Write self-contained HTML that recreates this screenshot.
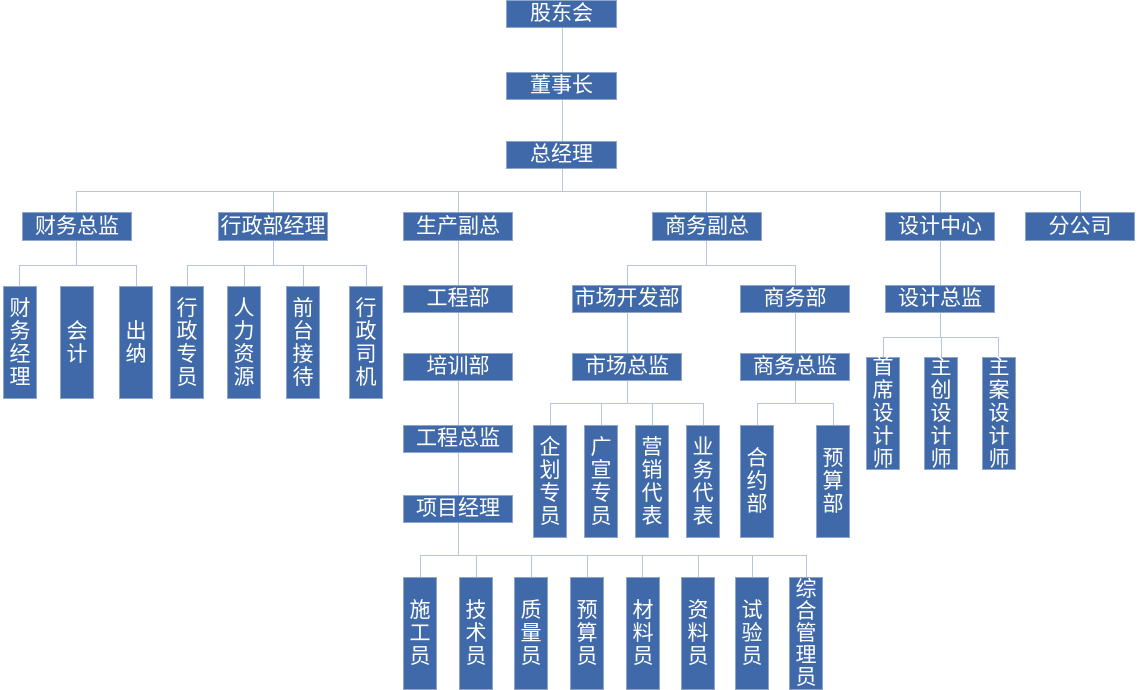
<!DOCTYPE html>
<html><head><meta charset="utf-8"><style>
body{margin:0;width:1143px;height:690px;background:#fff;position:relative;overflow:hidden;font-family:"Liberation Sans","Noto Sans CJK SC",sans-serif}
.b{position:absolute;background:#3f69a9;border:1px solid #8ea6cc;box-sizing:border-box;color:#fff;font-size:21px;display:flex;align-items:center;justify-content:center;text-align:center;line-height:24px}
.v{line-height:23px;font-size:21px}
.l{position:absolute;background:#b6c5dd}
.h{height:1px}.w{width:1px}
</style></head><body>
<!-- lines -->
<div class="l w" style="left:562px;top:27px;height:164px"></div>
<div class="l h" style="left:76px;top:191px;width:1005px"></div>
<div class="l w" style="left:76px;top:191px;height:22px"></div>
<div class="l w" style="left:273px;top:191px;height:22px"></div>
<div class="l w" style="left:458px;top:191px;height:364px"></div>
<div class="l w" style="left:706px;top:191px;height:74px"></div>
<div class="l w" style="left:940px;top:191px;height:146px"></div>
<div class="l w" style="left:1080px;top:191px;height:22px"></div>
<!-- finance -->
<div class="l w" style="left:76px;top:240px;height:25px"></div>
<div class="l h" style="left:19px;top:265px;width:118px"></div>
<div class="l w" style="left:19px;top:265px;height:21px"></div>
<div class="l w" style="left:136px;top:265px;height:21px"></div>
<!-- admin -->
<div class="l w" style="left:273px;top:240px;height:25px"></div>
<div class="l h" style="left:187px;top:265px;width:180px"></div>
<div class="l w" style="left:187px;top:265px;height:21px"></div>
<div class="l w" style="left:244px;top:265px;height:21px"></div>
<div class="l w" style="left:303px;top:265px;height:21px"></div>
<div class="l w" style="left:366px;top:265px;height:21px"></div>
<!-- commerce -->
<div class="l h" style="left:627px;top:265px;width:169px"></div>
<div class="l w" style="left:627px;top:265px;height:138px"></div>
<div class="l w" style="left:795px;top:265px;height:138px"></div>
<div class="l h" style="left:550px;top:403px;width:154px"></div>
<div class="l w" style="left:550px;top:403px;height:22px"></div>
<div class="l w" style="left:601px;top:403px;height:22px"></div>
<div class="l w" style="left:652px;top:403px;height:22px"></div>
<div class="l w" style="left:703px;top:403px;height:22px"></div>
<div class="l h" style="left:757px;top:403px;width:77px"></div>
<div class="l w" style="left:757px;top:403px;height:22px"></div>
<div class="l w" style="left:833px;top:403px;height:22px"></div>
<!-- design -->
<div class="l h" style="left:883px;top:337px;width:116px"></div>
<div class="l w" style="left:883px;top:337px;height:20px"></div>
<div class="l w" style="left:941px;top:337px;height:20px"></div>
<div class="l w" style="left:998px;top:337px;height:20px"></div>
<!-- project -->
<div class="l h" style="left:420px;top:555px;width:387px"></div>
<div class="l w" style="left:420px;top:555px;height:22px"></div>
<div class="l w" style="left:476px;top:555px;height:22px"></div>
<div class="l w" style="left:531px;top:555px;height:22px"></div>
<div class="l w" style="left:587px;top:555px;height:22px"></div>
<div class="l w" style="left:642px;top:555px;height:22px"></div>
<div class="l w" style="left:698px;top:555px;height:22px"></div>
<div class="l w" style="left:752px;top:555px;height:22px"></div>
<div class="l w" style="left:806px;top:555px;height:22px"></div>

<!-- boxes -->
<div class="b" style="left:506px;top:0;width:111px;height:28px">股东会</div>
<div class="b" style="left:506px;top:72px;width:111px;height:28px">董事长</div>
<div class="b" style="left:506px;top:141px;width:111px;height:28px">总经理</div>

<div class="b" style="left:22px;top:212px;width:110px;height:29px">财务总监</div>
<div class="b" style="left:218px;top:212px;width:110px;height:29px">行政部经理</div>
<div class="b" style="left:403px;top:212px;width:110px;height:29px">生产副总</div>
<div class="b" style="left:652px;top:212px;width:110px;height:29px">商务副总</div>
<div class="b" style="left:885px;top:212px;width:110px;height:29px">设计中心</div>
<div class="b" style="left:1025px;top:212px;width:110px;height:29px">分公司</div>

<div class="b v" style="left:3px;top:286px;width:34px;height:113px">财<br>务<br>经<br>理</div>
<div class="b v" style="left:60px;top:286px;width:34px;height:113px">会<br>计</div>
<div class="b v" style="left:119px;top:286px;width:34px;height:113px">出<br>纳</div>
<div class="b v" style="left:170px;top:286px;width:34px;height:113px">行<br>政<br>专<br>员</div>
<div class="b v" style="left:227px;top:286px;width:34px;height:113px">人<br>力<br>资<br>源</div>
<div class="b v" style="left:286px;top:286px;width:34px;height:113px">前<br>台<br>接<br>待</div>
<div class="b v" style="left:349px;top:286px;width:34px;height:113px">行<br>政<br>司<br>机</div>

<div class="b" style="left:403px;top:285px;width:110px;height:28px">工程部</div>
<div class="b" style="left:403px;top:353px;width:110px;height:28px">培训部</div>
<div class="b" style="left:403px;top:425px;width:110px;height:28px">工程总监</div>
<div class="b" style="left:403px;top:495px;width:110px;height:28px">项目经理</div>

<div class="b" style="left:572px;top:285px;width:110px;height:28px">市场开发部</div>
<div class="b" style="left:740px;top:285px;width:110px;height:28px">商务部</div>
<div class="b" style="left:572px;top:353px;width:110px;height:28px">市场总监</div>
<div class="b" style="left:740px;top:353px;width:110px;height:28px">商务总监</div>
<div class="b" style="left:885px;top:285px;width:110px;height:28px">设计总监</div>

<div class="b v" style="left:533px;top:425px;width:34px;height:113px">企<br>划<br>专<br>员</div>
<div class="b v" style="left:584px;top:425px;width:34px;height:113px">广<br>宣<br>专<br>员</div>
<div class="b v" style="left:635px;top:425px;width:34px;height:113px">营<br>销<br>代<br>表</div>
<div class="b v" style="left:686px;top:425px;width:34px;height:113px">业<br>务<br>代<br>表</div>
<div class="b v" style="left:740px;top:425px;width:34px;height:113px">合<br>约<br>部</div>
<div class="b v" style="left:816px;top:425px;width:34px;height:113px">预<br>算<br>部</div>

<div class="b v" style="left:866px;top:357px;width:34px;height:113px">首<br>席<br>设<br>计<br>师</div>
<div class="b v" style="left:924px;top:357px;width:34px;height:113px">主<br>创<br>设<br>计<br>师</div>
<div class="b v" style="left:982px;top:357px;width:34px;height:113px">主<br>案<br>设<br>计<br>师</div>

<div class="b v" style="left:403px;top:577px;width:34px;height:113px">施<br>工<br>员</div>
<div class="b v" style="left:459px;top:577px;width:34px;height:113px">技<br>术<br>员</div>
<div class="b v" style="left:514px;top:577px;width:34px;height:113px">质<br>量<br>员</div>
<div class="b v" style="left:570px;top:577px;width:34px;height:113px">预<br>算<br>员</div>
<div class="b v" style="left:626px;top:577px;width:34px;height:113px">材<br>料<br>员</div>
<div class="b v" style="left:681px;top:577px;width:34px;height:113px">资<br>料<br>员</div>
<div class="b v" style="left:735px;top:577px;width:34px;height:113px">试<br>验<br>员</div>
<div class="b v" style="left:789px;top:577px;width:34px;height:113px;line-height:22px">综<br>合<br>管<br>理<br>员</div>
</body></html>
